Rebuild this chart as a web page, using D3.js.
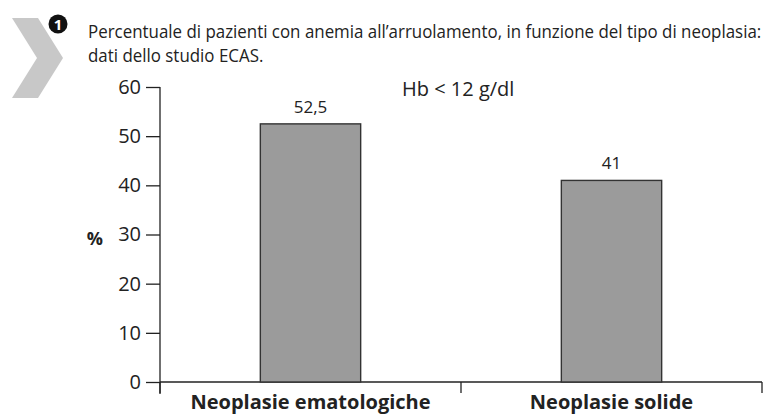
<!DOCTYPE html>
<html>
<head>
<meta charset="utf-8">
<script src="https://cdn.jsdelivr.net/npm/d3@7"></script>
<style>
  body { margin: 0; background: #fff; }
  text { font-family: "Open Sans", sans-serif; fill: #222; }
</style>
</head>
<body>
<div id="chart"></div>
<script>
// data
var categories = ["Neoplasie ematologiche", "Neoplasie solide"];
var values = [52.5, 41];
var valueLabels = ["52,5", "41"];
var yTicks = [0, 10, 20, 30, 40, 50, 60];
var titleLines = [
  "Percentuale di pazienti con anemia all\u2019arruolamento, in funzione del tipo di neoplasia:",
  "dati dello studio ECAS."
];
var note = "Hb < 12 g/dl";

var width = 766, height = 420;
var margin = {top: 87, right: 4, bottom: 38, left: 160};

var svg = d3.select("#chart")
  .append("svg")
    .attr("width", width)
    .attr("height", height);

// chevron + number
svg.append("path")
  .attr("d", "M12,18 L38,18 L63,58 L38,98 L12,98 L37,58 Z")
  .style("fill", "#c8c8c8");
svg.append("circle")
  .attr("cx", 58).attr("cy", 24).attr("r", 9.5)
  .style("fill", "#111");
svg.append("text")
  .attr("x", 58).attr("y", 29.5)
  .attr("text-anchor", "middle")
  .style("font-size", "15px").style("font-weight", "bold")
  .style("fill", "#fff")
  .text("1");

// title, squeezed horizontally like a condensed face
var title = svg.append("g");
var tl = title.selectAll(".title")
  .data(titleLines)
  .enter().append("text")
    .attr("class", "title")
    .attr("x", 0)
    .attr("y", function(d, i) { return 38 + i * 24; })
    .style("font-size", "19px")
    .text(function(d) { return d; });
var natural = tl.nodes()[0].getComputedTextLength();
var sx = 674 / natural;
title.attr("transform", "translate(88,0) scale(" + sx + ",1)");

var g = svg.append("g")
  .attr("transform", "translate(" + margin.left + "," + margin.top + ")");

var w = width - margin.left - margin.right,
    h = height - margin.top - margin.bottom;

var x = d3.scaleBand()
  .domain(categories)
  .range([0, w]);

var y = d3.scaleLinear()
  .domain([0, 60])
  .range([h, 0]);

// y axis
var yAxis = g.append("g")
  .call(d3.axisLeft(y).tickValues(yTicks).tickSize(14).tickPadding(5));
yAxis.select(".domain").attr("d", "M0," + (y(0) + 12) + "V" + y(60));
yAxis.selectAll("text")
  .style("font-size", "20px")
  .style("font-family", "Open Sans, sans-serif")
  .style("fill", "#222");
yAxis.selectAll("line, path").style("stroke", "#222").style("stroke-width", 1.3);

// x axis: ticks at band boundaries
var xa = g.append("g").attr("transform", "translate(0," + h + ")");
xa.append("line")
  .attr("x1", 0).attr("x2", w)
  .style("stroke", "#222").style("stroke-width", 1.3);
xa.selectAll(".xt")
  .data(categories.map(function(c) { return x(c); }).concat([w]))
  .enter().append("line")
    .attr("x1", function(d) { return d; })
    .attr("x2", function(d) { return d; })
    .attr("y1", 0).attr("y2", 11)
    .style("stroke", "#222").style("stroke-width", 1.3);
xa.selectAll(".xl")
  .data(categories)
  .enter().append("text")
    .attr("x", function(d) { return x(d) + x.bandwidth() / 2; })
    .attr("y", 27)
    .attr("text-anchor", "middle")
    .style("font-size", "20px").style("font-weight", "bold")
    .text(function(d) { return d; });

// bars
var barW = x.bandwidth() / 3;
g.selectAll(".bar")
  .data(values)
  .enter().append("rect")
    .attr("x", function(d, i) { return x(categories[i]) + x.bandwidth() / 2 - barW / 2; })
    .attr("y", function(d) { return y(d); })
    .attr("width", barW)
    .attr("height", function(d) { return h - y(d); })
    .style("fill", "#9b9b9b")
    .style("stroke", "#333")
    .style("stroke-width", 1.4);

g.selectAll(".val")
  .data(values)
  .enter().append("text")
    .attr("x", function(d, i) { return x(categories[i]) + x.bandwidth() / 2; })
    .attr("y", function(d) { return y(d) - 11; })
    .attr("text-anchor", "middle")
    .style("font-size", "17px")
    .text(function(d, i) { return valueLabels[i]; });

// % label
svg.append("text")
  .attr("x", 103).attr("y", 245)
  .attr("text-anchor", "end")
  .style("font-size", "18px").style("font-weight", "bold")
  .text("%");

// note
svg.append("text")
  .attr("x", 402).attr("y", 96)
  .style("font-size", "20px")
  .text(note);
</script>
</body>
</html>
